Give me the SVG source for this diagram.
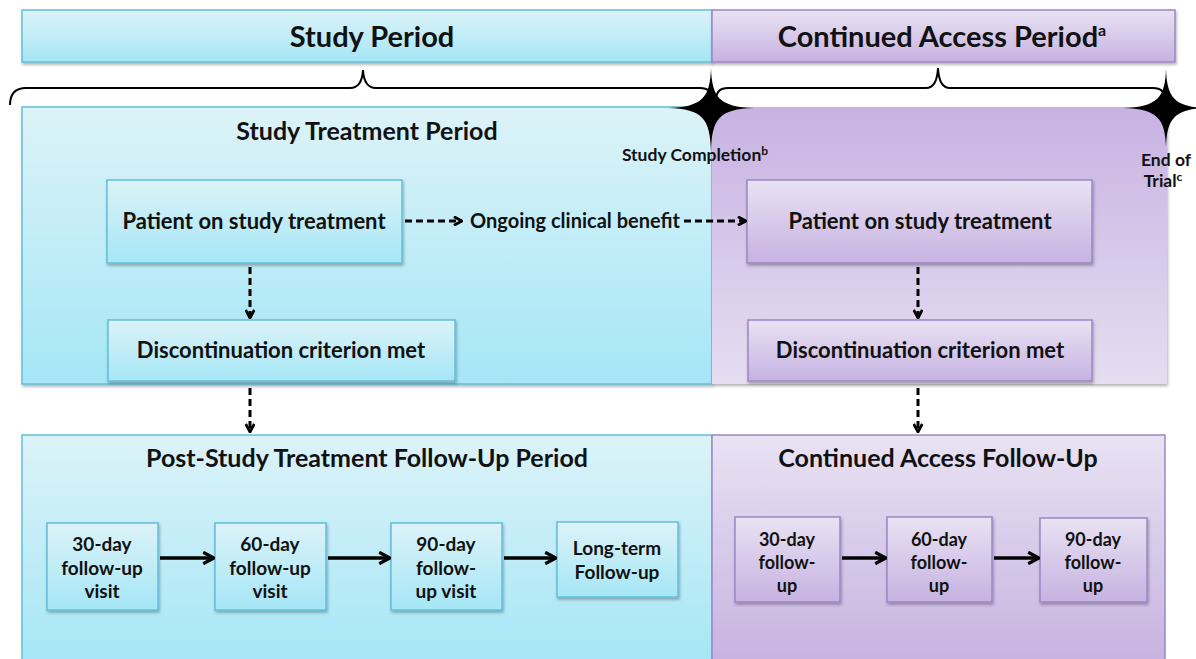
<svg xmlns="http://www.w3.org/2000/svg" width="1196" height="659" viewBox="0 0 1196 659">
<defs>
<linearGradient id="cy" x1="0" y1="0" x2="0" y2="1"><stop offset="0" stop-color="#dcf3f8"/><stop offset="1" stop-color="#a5e6f6"/></linearGradient>
<linearGradient id="pu" x1="0" y1="0" x2="0" y2="1"><stop offset="0" stop-color="#e9e2f3"/><stop offset="1" stop-color="#c6b2e1"/></linearGradient>
<linearGradient id="puR" x1="0" y1="0" x2="0" y2="1"><stop offset="0" stop-color="#c7b2e2"/><stop offset="1" stop-color="#e6ddf1"/></linearGradient>
<filter id="sh" x="-5%" y="-5%" width="112%" height="120%"><feDropShadow dx="1" dy="2" stdDeviation="1.5" flood-color="#000" flood-opacity="0.3"/></filter>
<marker id="ah" viewBox="0 0 10 10" refX="9" refY="5" markerWidth="3.6" markerHeight="3.6" orient="auto" markerUnits="strokeWidth"><path d="M1.5,1 L9,5 L1.5,9" fill="none" stroke="#000" stroke-width="2.6"/></marker>
<marker id="as" viewBox="0 0 10 10" refX="9" refY="5" markerWidth="4" markerHeight="4" orient="auto" markerUnits="strokeWidth"><path d="M1.5,1 L9,5 L1.5,9" fill="none" stroke="#000" stroke-width="2.2"/></marker>
</defs>
<style>
.c{fill:url(#cy);stroke:#62bfd8;stroke-width:1.5}
.p{fill:url(#pu);stroke:#9d86c3;stroke-width:1.5}
text{font-family:Lato,"Liberation Sans",sans-serif;font-weight:bold;fill:#111;text-anchor:middle}
.h{font-size:29px}
.t{font-size:25px}
.n{font-size:22px}
.o{font-size:20px}
.s{font-size:19px}
.r{font-size:18px}
.m{font-size:17.5px}
.d{fill:none;stroke:#000;stroke-width:3;stroke-dasharray:7 4;marker-end:url(#ah)}
.a{fill:none;stroke:#000;stroke-width:3.6;marker-end:url(#as)}
.b{fill:none;stroke:#000;stroke-width:2}
</style>
<g id="study-period"><rect class="c" x="22" y="10" width="690" height="52" filter="url(#sh)"/><text class="h" x="372" y="47">Study Period</text></g>
<g id="continued-access-period"><rect class="p" x="712" y="10" width="463" height="52" filter="url(#sh)"/><text class="h" x="942" y="47">Continued Access Period<tspan font-size="16" dy="-11">a</tspan></text></g>
<g id="braces"><path class="b" d="M10,105 Q10,88 26,88 L350,88 Q362,88 363,70 Q364,88 376,88 L700,88 Q712,88 712,100"/><path class="b" d="M716,100 Q716,88 728,88 L926,88 Q937,88 938,68 Q939,88 950,88 L1153,88 Q1165,88 1165,100"/></g>
<g id="study-treatment-period"><rect class="c" x="22" y="107" width="690" height="277" filter="url(#sh)"/><text class="t" x="367" y="140">Study Treatment Period</text></g>
<g id="continued-access-region"><rect x="712" y="107" width="455" height="277" fill="url(#puR)" filter="url(#sh)"/></g>
<g id="post-study-follow-up"><rect class="c" x="22" y="435" width="690" height="230"/><text class="t" x="367" y="467">Post-Study Treatment Follow-Up Period</text></g>
<g id="continued-access-follow-up"><rect class="p" x="712" y="435" width="453" height="230"/><text class="t" x="938" y="467">Continued Access Follow-Up</text></g>
<g id="star-study-completion"><path d="M711,68 C712,97 719,107 754,108 C719,109 712,119 711,151 C710,119 703,109 668,108 C703,107 710,97 711,68 Z" fill="#000"/><text class="m" x="695" y="161">Study Completion<tspan font-size="12" dy="-6">b</tspan></text></g>
<g id="star-end-of-trial"><path d="M1166,69 C1167,97 1174,107 1206,108 C1174,109 1167,119 1166,147 C1165,119 1158,109 1123,108 C1158,107 1165,97 1166,69 Z" fill="#000"/><text class="m" x="1166" y="166">End of</text><text class="m" x="1163" y="187">Trial<tspan font-size="12" dy="-6">c</tspan></text></g>
<g id="patient-left"><rect class="c" x="107" y="180" width="295" height="83" filter="url(#sh)"/><text class="n" x="254" y="229">Patient on study treatment</text></g>
<g id="discontinuation-left"><rect class="c" x="108" y="320" width="347" height="61" filter="url(#sh)"/><text class="n" x="281" y="358">Discontinuation criterion met</text></g>
<g id="patient-right"><rect class="p" x="747" y="180" width="345" height="83" filter="url(#sh)"/><text class="n" x="920" y="229">Patient on study treatment</text></g>
<g id="discontinuation-right"><rect class="p" x="748" y="320" width="344" height="61" filter="url(#sh)"/><text class="n" x="920" y="358">Discontinuation criterion met</text></g>
<g id="ongoing-label"><text class="o" x="575" y="228">Ongoing clinical benefit</text></g>
<g id="l30"><rect class="c" x="47" y="523" width="111" height="87" filter="url(#sh)"/><text class="s" x="102" y="551">30-day</text><text class="s" x="102" y="575">follow-up</text><text class="s" x="102" y="598">visit</text></g>
<g id="l60"><rect class="c" x="215" y="523" width="111" height="87" filter="url(#sh)"/><text class="s" x="270" y="551">60-day</text><text class="s" x="270" y="575">follow-up</text><text class="s" x="270" y="598">visit</text></g>
<g id="l90"><rect class="c" x="391" y="523" width="111" height="87" filter="url(#sh)"/><text class="s" x="446" y="551">90-day</text><text class="s" x="446" y="575">follow-</text><text class="s" x="446" y="598">up visit</text></g>
<g id="llong"><rect class="c" x="557" y="522" width="121" height="75" filter="url(#sh)"/><text class="s" x="617" y="555">Long-term</text><text class="s" x="617" y="579">Follow-up</text></g>
<g id="r30"><rect class="p" x="735" y="517" width="105" height="85" filter="url(#sh)"/><text class="r" x="787" y="546">30-day</text><text class="r" x="787" y="569">follow-</text><text class="r" x="787" y="592">up</text></g>
<g id="r60"><rect class="p" x="887" y="517" width="105" height="85" filter="url(#sh)"/><text class="r" x="939" y="546">60-day</text><text class="r" x="939" y="569">follow-</text><text class="r" x="939" y="592">up</text></g>
<g id="r90"><rect class="p" x="1040" y="518" width="107" height="84" filter="url(#sh)"/><text class="r" x="1093" y="546">90-day</text><text class="r" x="1093" y="569">follow-</text><text class="r" x="1093" y="592">up</text></g>
<g id="connectors">
<path class="d" d="M405,221 L462,221"/>
<path class="d" d="M684,221 L746,221"/>
<path class="d" d="M250,267 L250,318"/>
<path class="d" d="M918,267 L918,318"/>
<path class="d" d="M250,388 L250,432"/>
<path class="d" d="M918,388 L918,432"/>
<path class="a" d="M160,558 L214,558"/>
<path class="a" d="M328,558 L390,558"/>
<path class="a" d="M504,558 L556,558"/>
<path class="a" d="M842,558 L886,558"/>
<path class="a" d="M994,558 L1039,558"/>
</g>
</svg>
